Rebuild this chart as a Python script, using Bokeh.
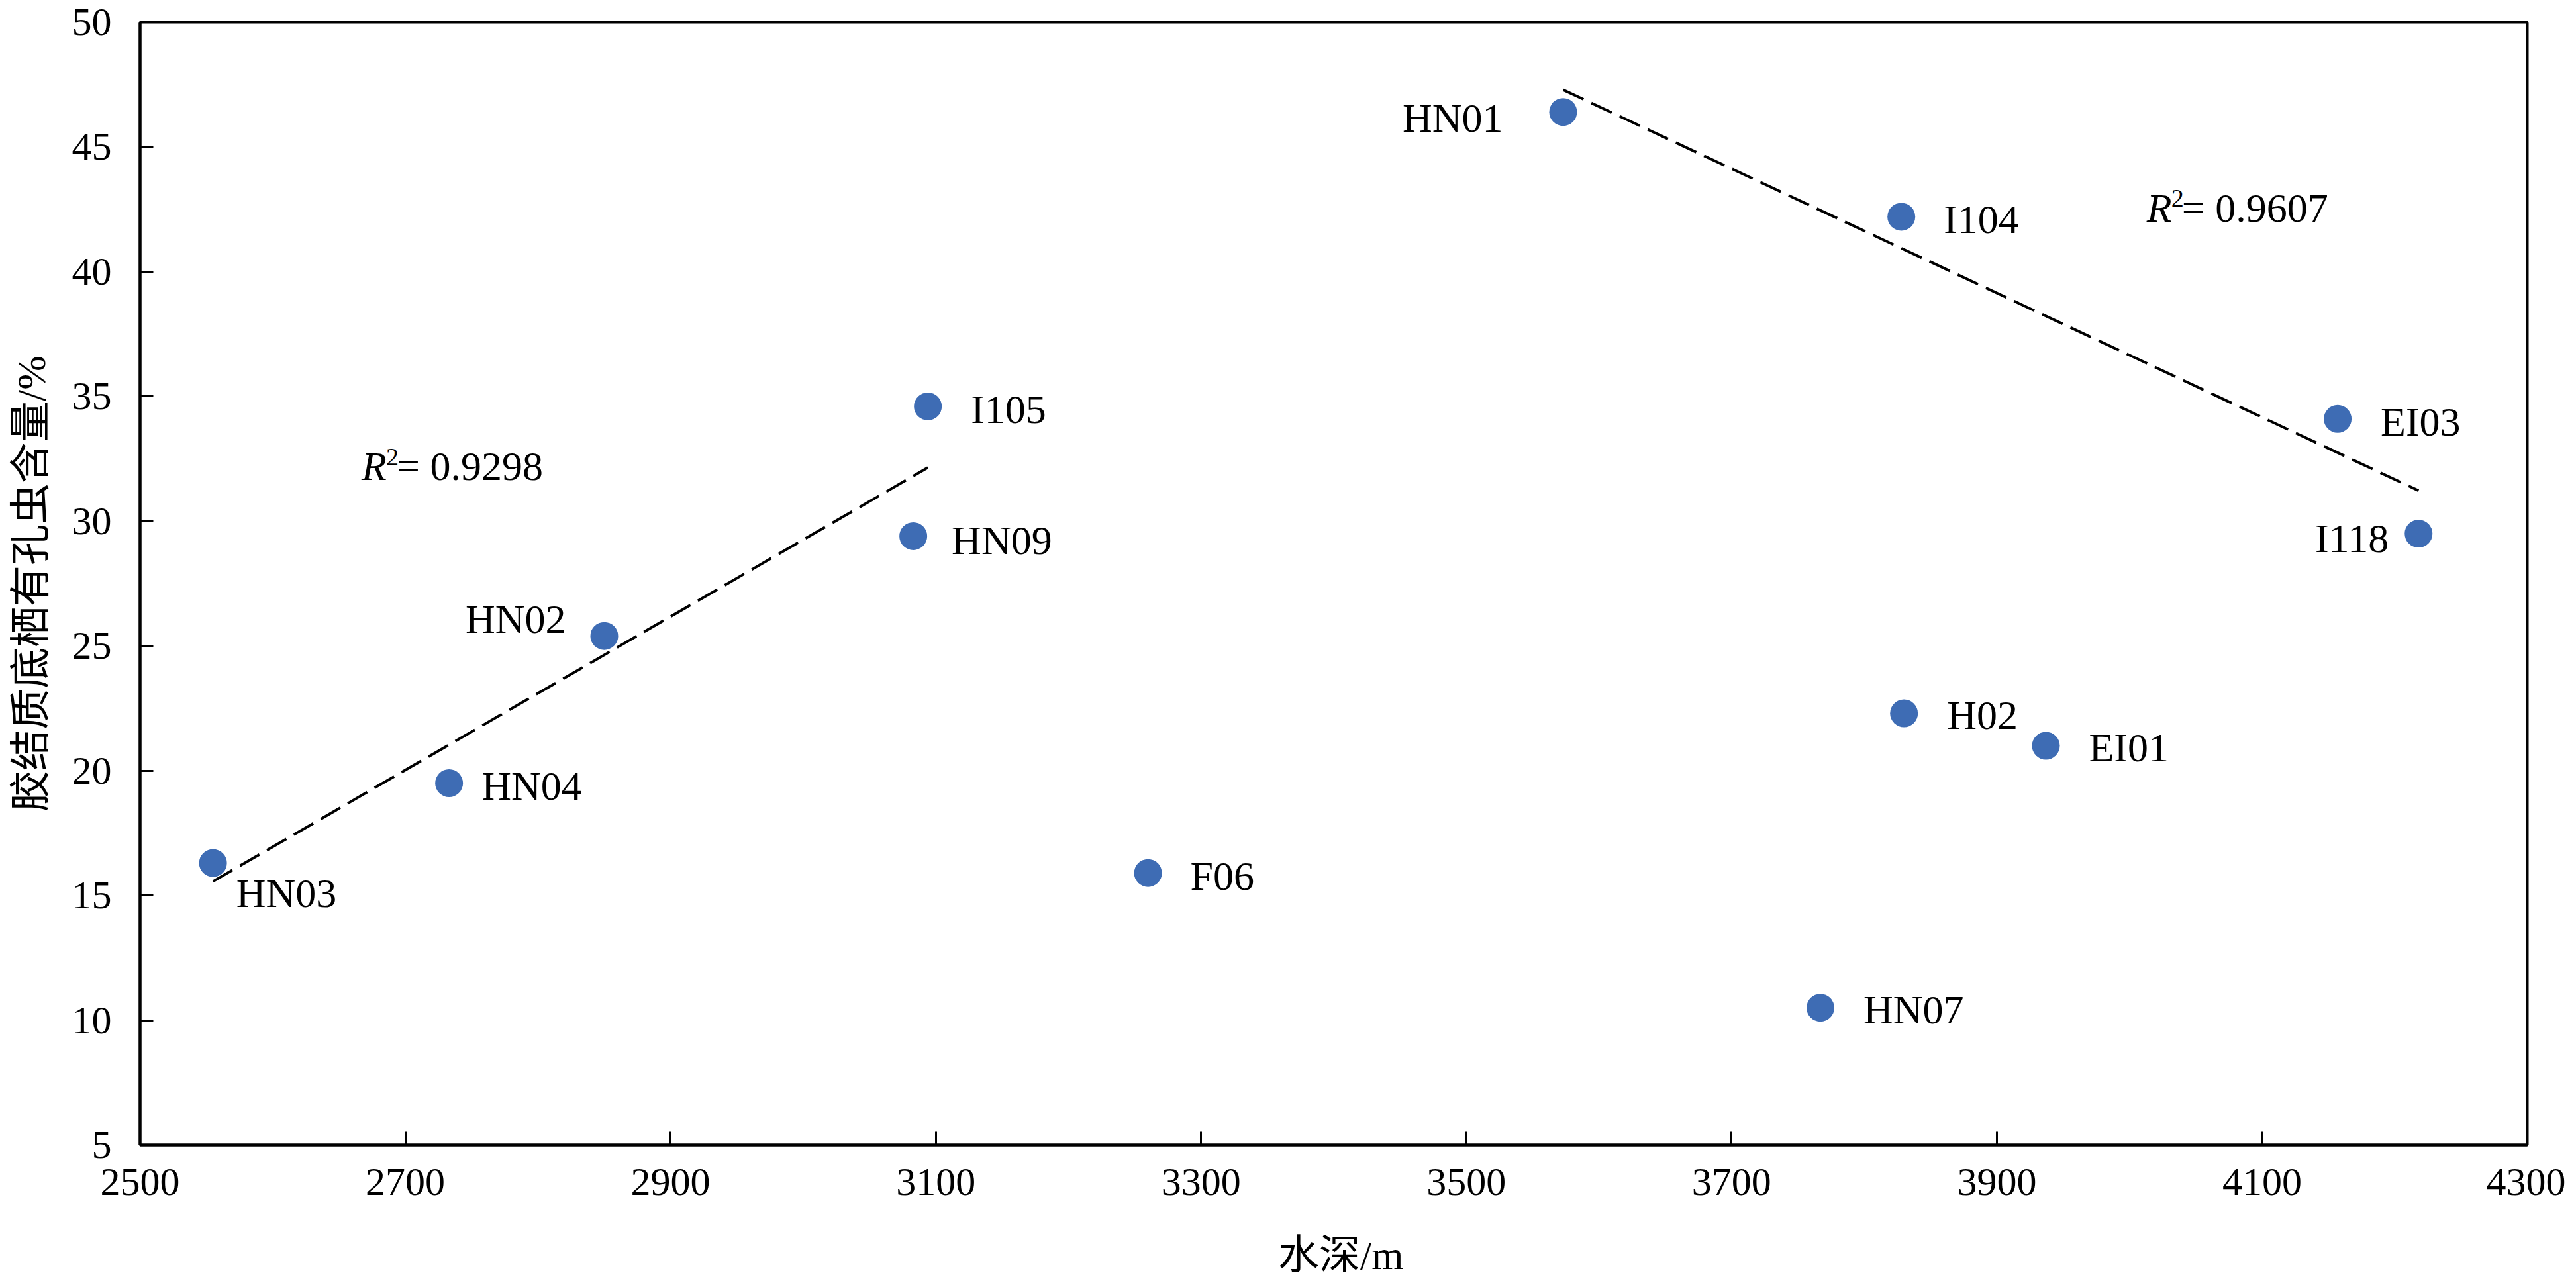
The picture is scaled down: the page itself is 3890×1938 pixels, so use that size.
import numpy as np
from bokeh.plotting import figure
from bokeh.layouts import column
from bokeh.models import ColumnDataSource, Range1d, FixedTicker
from bokeh.core.properties import value
from bokeh.embed import file_html
from bokeh.resources import INLINE

# ---------------- data ----------------
sites = ["HN03", "HN04", "HN02", "HN09", "I105", "F06", "HN01",
         "I104", "H02", "EI01", "HN07", "EI03", "I118"]
depth = [2555, 2733, 2850, 3083, 3094, 3260, 3573,
         3828, 3830, 3937, 3767, 4157, 4218]
content = [16.3, 19.5, 25.4, 29.4, 34.6, 15.9, 46.4,
           42.2, 22.3, 21.0, 10.5, 34.1, 29.5]

trend_a_sites = ["HN03", "HN04", "HN02", "HN09", "I105"]
trend_b_sites = ["HN01", "I104", "EI03", "I118"]
r2_a_text = "0.9298"
r2_b_text = "0.9607"

x_ticks = [2500, 2700, 2900, 3100, 3300, 3500, 3700, 3900, 4100, 4300]
y_ticks = [5, 10, 15, 20, 25, 30, 35, 40, 45, 50]
x_title = "水深/m"
y_title = "胶结质底栖有孔虫含量/%"

# ---------------- layout / style (not data) ----------------
# label placement: screen offset (dx, dy down) and alignment
label_place = {
    "HN03": (35, 45, "left"), "HN04": (49, 4, "left"),
    "HN02": (-58, -26, "right"), "HN09": (58, 6, "left"),
    "I105": (65, 4, "left"), "F06": (64, 4, "left"),
    "HN01": (-91, 9, "right"), "I104": (64, 4, "left"),
    "H02": (65, 3, "left"), "EI01": (65, 3, "left"),
    "HN07": (65, 3, "left"), "EI03": (65, 4, "left"),
    "I118": (-45, 7, "right"),
}
r2_a_anchor = (2667, 32.2)
r2_b_anchor = (4013, 42.56)

W = 3874
H_MAIN = 1841
H_TITLE = 89
B_LEFT, B_RIGHT, B_TOP, B_BOTTOM = 211, 58, 33, 112
TITLE_X_SHIFT = -65   # empirical centring correction for the CJK title
TITLE_Y = 35

SERIF = "Liberation Serif"
CJK = "'Liberation Serif', 'Noto Sans CJK SC'"
BLUE = "#3E6CB4"

p = figure(width=W, height=H_MAIN, output_backend="svg", toolbar_location=None,
           x_range=Range1d(2500, 4300), y_range=Range1d(5, 50),
           min_border_left=B_LEFT, min_border_right=B_RIGHT,
           min_border_top=B_TOP, min_border_bottom=B_BOTTOM)
p.background_fill_color = "white"
p.border_fill_color = "white"
p.grid.visible = False
p.outline_line_color = "black"
p.outline_line_width = 4

for ax in (p.xaxis[0], p.yaxis[0]):
    ax.axis_line_width = 4
    ax.axis_line_color = "black"
    ax.major_tick_in = 20
    ax.major_tick_out = 0
    ax.major_tick_line_width = 3
    ax.major_tick_line_color = "black"
    ax.minor_tick_line_color = None
    ax.major_label_text_font = SERIF
    ax.major_label_text_font_size = "60px"
    ax.major_label_text_color = "black"
    ax.axis_label_text_font = CJK
    ax.axis_label_text_font_size = "62px"
    ax.axis_label_text_font_style = "normal"
    ax.axis_label_text_color = "black"

p.xaxis.ticker = FixedTicker(ticks=x_ticks)
p.yaxis.ticker = FixedTicker(ticks=y_ticks)
p.yaxis.axis_label = y_title
p.xaxis.major_label_standoff = 36
p.yaxis.major_label_standoff = 43
p.yaxis.axis_label_standoff = 25

# ---------------- trend lines (least squares on the data) ----------------
def trend(group):
    xs = np.array([depth[sites.index(s)] for s in group], dtype=float)
    ys = np.array([content[sites.index(s)] for s in group], dtype=float)
    k, b = np.polyfit(xs, ys, 1)
    x0, x1 = xs.min(), xs.max()
    return [x0, x1], [k * x0 + b, k * x1 + b]

for grp in (trend_a_sites, trend_b_sites):
    tx, ty = trend(grp)
    p.line(tx, ty, line_color="black", line_width=4, line_dash="34 13")

# ---------------- points ----------------
src = ColumnDataSource(dict(
    x=depth, y=content, name=sites,
    dx=[label_place[s][0] for s in sites],
    dy=[label_place[s][1] for s in sites],
    al=[label_place[s][2] for s in sites],
))
p.scatter("x", "y", source=src, size=42, fill_color=BLUE, line_color=None)
p.text("x", "y", text="name", source=src, x_offset="dx", y_offset="dy",
       text_align="al", text_baseline="middle",
       text_font=value(SERIF), text_font_size="62px", text_color="black")

# ---------------- R^2 annotations ----------------
for (ax_, ay_), rtxt in ((r2_a_anchor, r2_a_text), (r2_b_anchor, r2_b_text)):
    p.text([ax_], [ay_], text=["R"], text_font=value(SERIF), text_font_size="62px",
           text_font_style="italic", text_baseline="alphabetic", text_align="left",
           text_color="black")
    p.text([ax_], [ay_], text=["2"], x_offset=37, y_offset=-14,
           text_font=value(SERIF), text_font_size="38px",
           text_baseline="alphabetic", text_align="left", text_color="black")
    p.text([ax_], [ay_], text=["= " + rtxt], x_offset=53,
           text_font=value(SERIF), text_font_size="62px",
           text_baseline="alphabetic", text_align="left", text_color="black")

# ---------------- x-axis title strip (below the plot) ----------------
p2 = figure(width=W, height=H_TITLE, output_backend="svg", toolbar_location=None,
            x_range=Range1d(0, W), y_range=Range1d(0, H_TITLE),
            x_axis_location=None, y_axis_location=None, min_border=0)
p2.grid.visible = False
p2.outline_line_color = None
p2.background_fill_color = "white"
p2.border_fill_color = "white"
title_cx = (B_LEFT + (W - B_RIGHT)) / 2 + TITLE_X_SHIFT
p2.text([title_cx], [TITLE_Y], text=[x_title], text_align="center",
        text_baseline="middle", text_font=value(CJK), text_font_size="62px",
        text_color="black")

layout = column(p, p2, spacing=0)
open("out.html", "w").write(file_html(layout, INLINE))
